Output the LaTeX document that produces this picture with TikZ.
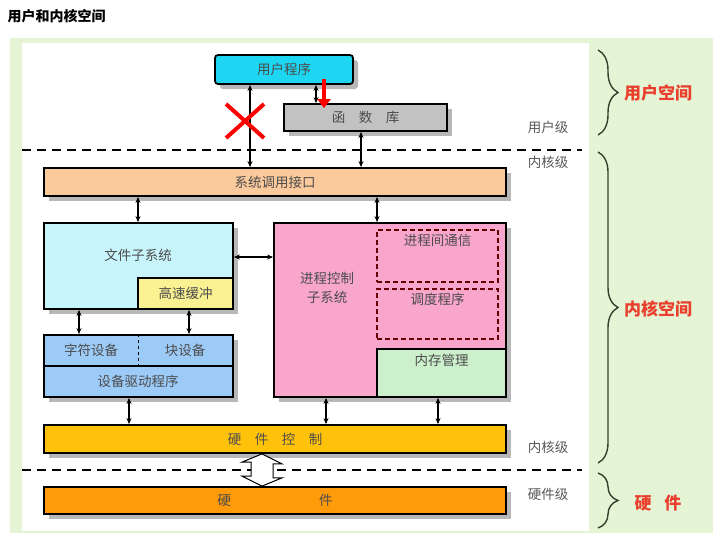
\documentclass[tikz,border=0pt]{standalone}
\usepackage{fontspec}
\setmainfont{Noto Sans CJK SC}
\usetikzlibrary{arrows.meta,shadows,decorations.pathreplacing}

\definecolor{bggreen}{HTML}{E6F4D6}
\definecolor{usrcyan}{HTML}{1CD6F2}
\definecolor{libgray}{HTML}{C2C2C2}
\definecolor{syspeach}{HTML}{FBCA9C}
\definecolor{fscyan}{HTML}{C8F5FB}
\definecolor{cacheyel}{HTML}{FAF192}
\definecolor{procpink}{HTML}{F8A6CB}
\definecolor{memgreen}{HTML}{CDF0CC}
\definecolor{devblue}{HTML}{9CCBF8}
\definecolor{hwcyel}{HTML}{FFC20A}
\definecolor{hworange}{HTML}{FF9A0A}
\definecolor{spred}{HTML}{EA3F2C}
\definecolor{bracecol}{HTML}{33422F}

\tikzset{
	blk/.style={draw=black, line width=1.8pt, inner sep=0pt, text=black!70,
		font=\fontsize{13.5}{15}\selectfont,
		drop shadow={shadow xshift=5pt, shadow yshift=-5pt, fill=black!28, opacity=1}},
	inbox/.style={draw=black, line width=1.8pt, inner sep=0pt},
	dashbox/.style={draw=black!60!red, dash pattern=on 5pt off 3pt, line width=1.3pt, inner sep=0pt},
	txt/.style={text=black!70, font=\fontsize{13.5}{15}\selectfont},
	dbl/.style={{Stealth[length=6pt,width=5pt]}-{Stealth[length=6pt,width=5pt]}, line width=1.1pt},
	lvl/.style={text=black!65, font=\fontsize{13.5}{15}\selectfont},
	spacelbl/.style={text=spred, font=\bfseries\fontsize{17}{19}\selectfont},
	sepline/.style={line width=2pt, dash pattern=on 9pt off 6pt},
	brc/.style={decorate, decoration={brace, amplitude=20pt}, line width=1.4pt, draw=bracecol}
}

\begin{document}
\begin{tikzpicture}[x=1pt, y=-1pt]
	\useasboundingbox (0,0) rectangle (727,544);
	% background
	\fill[bggreen] (10,38) rectangle (713,533);
	\fill[white] (22,43) rectangle (589,531);
	\node[anchor=west, font=\bfseries\fontsize{14}{16}\selectfont] (title) at (4,16) {用户和内核空间};

	% user level
	\node[blk, fill=usrcyan, rounded corners=3pt, minimum width=138pt, minimum height=29pt] (usr) at (284,69.5) {用户程序};
	\node[blk, fill=libgray, minimum width=163pt, minimum height=27pt] (lib) at (365.5,117.5) {函\hspace{1em}数\hspace{1em}库};
	\node[lvl] (ulvl) at (548,127) {用户级};
	\draw[sepline] (22,150) -- (582,150);
	\node[lvl] (klvl) at (548,162) {内核级};

	% kernel
	\node[blk, fill=syspeach, minimum width=462pt, minimum height=28pt] (sys) at (275,182) {系统调用接口};

	\node[blk, fill=fscyan, minimum width=189pt, minimum height=86pt] (fs) at (138.5,266) {};
	\node[txt] (fstxt) at (138,255) {文件子系统};
	\node[inbox, fill=cacheyel, minimum width=95pt, minimum height=31pt, txt] (cache) at (185.5,293.5) {高速缓冲};

	\node[blk, fill=procpink, minimum width=232pt, minimum height=174pt] (proc) at (390,310) {};
	\node[txt, align=center, font=\fontsize{13.5}{19}\selectfont] (proctxt) at (327,288) {进程控制\\子系统};
	\node[dashbox, minimum width=121pt, minimum height=52pt] (ipc) at (437.5,256) {};
	\node[txt, anchor=north] (ipctxt) at ([yshift=-1pt]ipc.north) {进程间通信};
	\node[dashbox, minimum width=121pt, minimum height=50pt] (sched) at (437.5,314) {};
	\node[txt, anchor=north] (schedtxt) at ([yshift=-1pt]sched.north) {调度程序};
	\node[inbox, fill=memgreen, minimum width=129pt, minimum height=48pt] (mem) at (441.5,373) {};
	\node[txt, anchor=north] (memtxt) at ([yshift=-2pt]mem.north) {内存管理};

	\node[blk, fill=devblue, minimum width=189pt, minimum height=62pt] (dev) at (138.5,366) {};
	\draw[line width=1.8pt] (dev.west) -- (dev.east);
	\draw[line width=1.4pt, dashed] (dev.north) -- (dev.center);
	\node[txt] (chardev) at (91,350) {字符设备};
	\node[txt] (blkdev) at (185,350) {块设备};
	\node[txt] (drv) at (138,381) {设备驱动程序};

	\node[blk, fill=hwcyel, minimum width=462pt, minimum height=28pt] (hwc) at (275,439) {硬\hspace{1em}件\hspace{1em}控\hspace{1em}制};
	\node[lvl] (klvl2) at (548,447) {内核级};
	\draw[sepline] (22,470) -- (582,470);
	\node[blk, fill=hworange, minimum width=462pt, minimum height=27pt] (hw) at (275,500.5) {硬\hspace{88pt}件};
	\node[lvl] (hlvl) at (548,494) {硬件级};
	% hollow link between hardware control and hardware
	\draw[fill=white, line width=1pt, line join=miter] (hwc.south -| 262,0) -- ++(20,10) -- ++(-9,0) -- ++(0,14) -- ++(9,0)
		-- (hw.north -| 262,0) -- ++(-20,-10) -- ++(9,0) -- ++(0,-14) -- ++(-9,0) -- cycle;

	% connectors
	\draw[dbl] (usr.south -| 250,0) -- (sys.north -| 250,0);
	\draw[dbl] (usr.south -| 316,0) -- (lib.north -| 316,0);
	\draw[dbl] (lib.south -| 361,0) -- (sys.north -| 361,0);
	\draw[dbl] (sys.south -| 138,0) -- (fs.north -| 138,0);
	\draw[dbl] (sys.south -| 377,0) -- (proc.north -| 377,0);
	\draw[dbl] (fs.east |- 0,257) -- (proc.west |- 0,257);
	\draw[dbl] (fs.south -| 79,0) -- (dev.north -| 79,0);
	\draw[dbl] (fs.south -| 189,0) -- (dev.north -| 189,0);
	\draw[dbl] (dev.south -| 129,0) -- (hwc.north -| 129,0);
	\draw[dbl] (proc.south -| 326,0) -- (hwc.north -| 326,0);
	\draw[dbl] (proc.south -| 438,0) -- (hwc.north -| 438,0);

	% red marks
	\draw[red, line width=3.5pt, shorten <=-6pt, shorten >=-5pt, -{Triangle[length=9pt,width=13pt]}] (usr.south -| 324,0) -- (lib.north -| 324,0);
	\draw[red, line width=4pt] (226,104) -- (264,138) (264,104) -- (226,138);

	% braces
	\draw[brc] (598,50) -- (598,135);
	\node[spacelbl] (uspace) at (658,93) {用户空间};
	\draw[brc] (598,152) -- (598,463);
	\node[spacelbl] (kspace) at (658,309) {内核空间};
	\draw[brc] (598,473) -- (598,528);
	\node[spacelbl] (hspace) at (658,503) {硬\hspace{0.75em}件};
\end{tikzpicture}
\end{document}
